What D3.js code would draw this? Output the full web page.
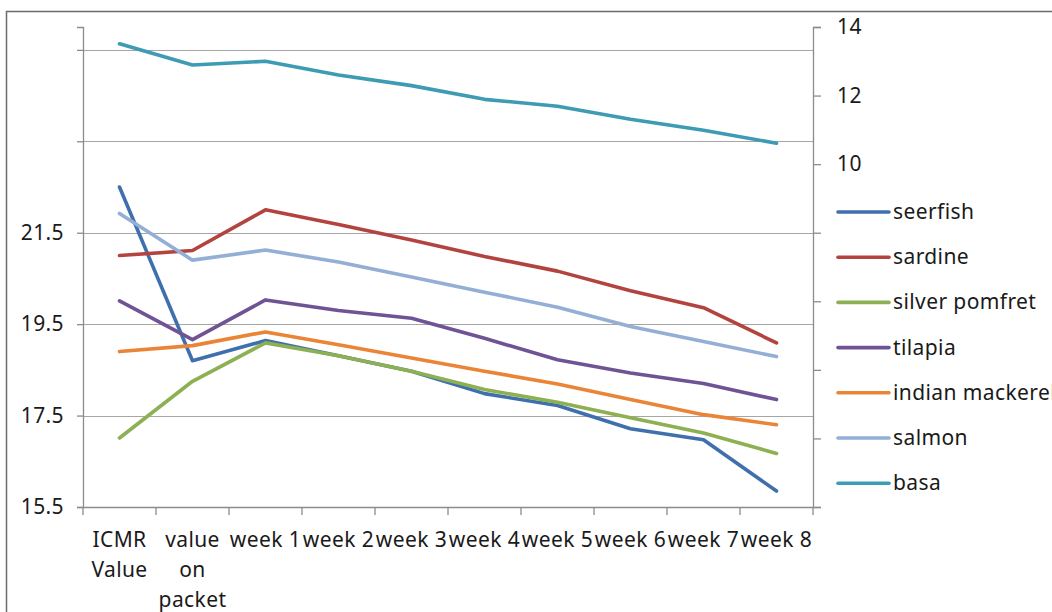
<!DOCTYPE html>
<html>
<head>
<meta charset="utf-8">
<script src="https://cdn.jsdelivr.net/npm/d3@7"></script>
<style>
  body { margin: 0; background: #fff; }
  text { font-family: "Noto Sans", "Open Sans", sans-serif; fill: #1a1a1a; }
</style>
</head>
<body>
<svg class="chartSVG"></svg>
<script>
const svgWidth = 1052;
const svgHeight = 612;

// categories along the bottom
const categories = ["ICMR Value", "value on packet", "week 1", "week 2", "week 3",
  "week 4", "week 5", "week 6", "week 7", "week 8"];

// left axis series
const seerfish = [22.5, 18.7, 19.14, 18.81, 18.47, 17.98, 17.72, 17.21, 16.97, 15.85];
const sardine = [21.0, 21.11, 22.0, 21.68, 21.34, 20.98, 20.66, 20.23, 19.86, 19.09];
const silverPomfret = [17.01, 18.25, 19.09, 18.81, 18.47, 18.07, 17.79, 17.45, 17.12, 16.67];
const tilapia = [20.01, 19.16, 20.03, 19.8, 19.63, 19.19, 18.72, 18.43, 18.2, 17.85];
const indianMackerel = [18.9, 19.03, 19.33, 19.05, 18.76, 18.47, 18.19, 17.85, 17.52, 17.3];
const salmon = [21.92, 20.9, 21.12, 20.86, 20.53, 20.2, 19.87, 19.45, 19.12, 18.79];
// right axis series
const basa = [13.51, 12.89, 13.0, 12.6, 12.29, 11.89, 11.69, 11.31, 10.99, 10.61];

// tick values
const leftTicks = [15.5, 17.5, 19.5, 21.5, 23.5, 25.5];
const leftLabelled = [15.5, 17.5, 19.5, 21.5];
const rightTicks = [0, 2, 4, 6, 8, 10, 12, 14];
const rightLabelled = [10, 12, 14];

const series = [
  { name: "seerfish", values: seerfish, colour: "#3f70ad", axis: "left" },
  { name: "sardine", values: sardine, colour: "#b3433f", axis: "left" },
  { name: "silver pomfret", values: silverPomfret, colour: "#8cb052", axis: "left" },
  { name: "tilapia", values: tilapia, colour: "#6f5395", axis: "left" },
  { name: "indian mackerel", values: indianMackerel, colour: "#ea8538", axis: "left" },
  { name: "salmon", values: salmon, colour: "#93afd6", axis: "left" },
  { name: "basa", values: basa, colour: "#3d9bb3", axis: "right" }
];

var margin = { top: 27, left: 83, right: 239, bottom: 105 };
var innerWidth = svgWidth - margin.left - margin.right;
var innerHeight = svgHeight - margin.top - margin.bottom;
var fontSize = "21px";
var spacing = "0.4px";

const svg = d3.select(".chartSVG")
  .attr("width", svgWidth)
  .attr("height", svgHeight);

// outer chart border, runs off the right and bottom edges
svg.append("rect")
  .attr("x", 6.5).attr("y", 11.5)
  .attr("width", 1100).attr("height", 700)
  .attr("fill", "#fff")
  .attr("stroke", "#6b6b6b")
  .attr("stroke-width", 1.5);

const graph = svg.append("g")
  .attr("transform", `translate(${margin.left}, ${margin.top})`);

var x = d3.scaleBand().domain(categories).range([0, innerWidth]);
var yLeft = d3.scaleLinear().domain([15.5, 26]).range([innerHeight, 0]);
var yRight = d3.scaleLinear().domain([0, 14]).range([innerHeight, 0]);

// gridlines
graph.append("g")
  .selectAll("line")
  .data(leftTicks.slice(1))
  .join("line")
    .attr("x1", 0).attr("x2", innerWidth)
    .attr("y1", d => Math.round(yLeft(d)) + 0.5)
    .attr("y2", d => Math.round(yLeft(d)) + 0.5)
    .attr("stroke", "#a6a6a6")
    .attr("stroke-width", 1.2);

// left axis
const leftAxis = graph.append("g")
  .call(d3.axisLeft(yLeft).tickValues(leftTicks).tickSize(6).tickPadding(13)
    .tickFormat(d => leftLabelled.includes(d) ? d3.format(".1f")(d) : ""));

// right axis
const rightAxis = graph.append("g")
  .attr("transform", `translate(${innerWidth}, 0)`)
  .call(d3.axisRight(yRight).tickValues(rightTicks).tickSize(8).tickPadding(16)
    .tickFormat(d => rightLabelled.includes(d) ? d : ""));

// bottom axis, ticks sit on the band edges
const xAxis = graph.append("g")
  .attr("transform", `translate(0, ${innerHeight})`)
  .call(d3.axisBottom(x).tickSize(0).tickFormat(""));
xAxis.selectAll(".edge")
  .data(d3.range(categories.length + 1))
  .join("line")
    .attr("class", "edge")
    .attr("x1", i => i * x.step()).attr("x2", i => i * x.step())
    .attr("y1", 0).attr("y2", 8);

[leftAxis, rightAxis, xAxis].forEach(function(ax) {
  ax.select(".domain").attr("stroke", "#8c8c8c").attr("stroke-width", 1.3);
  ax.selectAll("line").attr("stroke", "#8c8c8c").attr("stroke-width", 1.3);
  ax.selectAll("text").filter(function() { return this.textContent === ""; }).remove();
  ax.selectAll("text").style("font-size", fontSize).attr("fill", "#1a1a1a")
    .style("font-family", "'Noto Sans', sans-serif")
    .style("letter-spacing", spacing);
});

// category labels, the first two wrap word by word
const catLabels = graph.append("g")
  .selectAll("text")
  .data(categories)
  .join("text")
    .attr("x", d => x(d) + x.bandwidth() / 2)
    .attr("y", innerHeight + 40)
    .attr("text-anchor", "middle")
    .style("font-size", fontSize)
    .style("letter-spacing", spacing);
catLabels.each(function(d) {
  var lines = d.startsWith("week") ? [d] : d.split(" ");
  d3.select(this).selectAll("tspan")
    .data(lines)
    .join("tspan")
      .attr("x", x(d) + x.bandwidth() / 2)
      .attr("dy", (l, i) => i === 0 ? 0 : 30)
      .text(l => l);
});

// lines
series.forEach(function(s) {
  var yScale = s.axis === "left" ? yLeft : yRight;
  graph.append("path")
    .datum(s.values)
    .attr("fill", "none")
    .attr("stroke", s.colour)
    .attr("stroke-width", 3.6)
    .attr("stroke-linejoin", "round")
    .attr("stroke-linecap", "round")
    .attr("d", d3.line()
      .x((d, i) => x(categories[i]) + x.bandwidth() / 2)
      .y(d => yScale(d)));
});

// legend
const legend = svg.append("g")
  .attr("transform", "translate(838, 212)");
const items = legend.selectAll("g")
  .data(series)
  .join("g")
    .attr("transform", (d, i) => `translate(0, ${i * 45.2})`);
items.append("line")
  .attr("x1", 0).attr("x2", 51)
  .attr("stroke", d => d.colour)
  .attr("stroke-width", 3.6)
  .attr("stroke-linecap", "round");
items.append("text")
  .attr("x", 55)
  .attr("y", 7)
  .style("font-size", fontSize)
  .style("letter-spacing", spacing)
  .text(d => d.name);
</script>
</body>
</html>
